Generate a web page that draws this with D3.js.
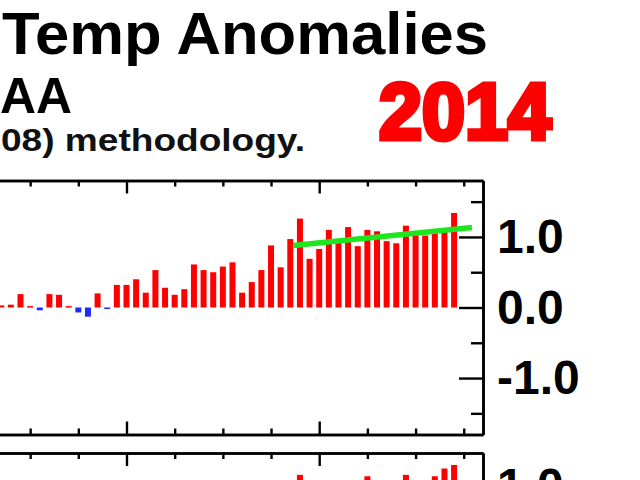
<!DOCTYPE html>
<html><head><meta charset="utf-8">
<script src="https://cdn.jsdelivr.net/npm/d3@7"></script>
<style>html,body{margin:0;padding:0;background:#fff;overflow:hidden}</style>
</head><body>
<script>
// ---- data ----
const years = [1967,1968,1969,1970,1971,1972,1973,1974,1975,1976,1977,1978,1979,1980,
  1981,1982,1983,1984,1985,1986,1987,1988,1989,1990,1991,1992,1993,1994,1995,1996,1997,
  1998,1999,2000,2001,2002,2003,2004,2005,2006,2007,2008,2009,2010,2011,2012,2013,2014];
const anomalies = [0.03,0.04,0.19,0.02,-0.04,0.19,0.18,0.02,-0.07,-0.13,0.20,-0.01,0.32,0.32,
  0.40,0.21,0.53,0.28,0.18,0.26,0.61,0.53,0.50,0.58,0.64,0.21,0.36,0.53,0.88,0.57,0.97,
  1.26,0.69,0.83,1.10,0.93,1.14,0.87,1.10,1.08,0.94,0.91,1.16,1.03,1.02,1.05,1.08,1.34];
const trendYears = [1997.3, 2015.85];
const trendValues = [0.88, 1.135];
const lowerYears = [1998, 2005, 2009, 2012, 2013, 2014];
const lowerValues = [1.16, 1.14, 1.16, 1.14, 1.25, 1.30];
const minorYearTicks = [1965,1970,1975,1985,1990,1995,2005,2010,2015];
const majorYearTicks = [1980,2000];
const majorValueTicks = [-1.0, 0.0, 1.0];
const minorValueTicks = [-1.5, -0.5, 0.5, 1.5];
const titleLine1 = "Temp Anomalies";
const titleLine2 = "AA";
const titleLine3 = "08) methodology.";
const stamp = "2014";

// ---- drawing ----
const W = 640, H = 480;
const svg = d3.select("body").append("svg").attr("width", W).attr("height", H);
svg.append("rect").attr("width", W).attr("height", H).attr("fill", "#fff");

const x = d3.scaleLinear().domain([1980, 2017]).range([126.5, 483]);
const xAxisScale = x.copy().domain([1950, 2017]).range([x(1950), x(2017)]);
const y = d3.scaleLinear().domain([-1.8, 1.8]).range([434.5, 180.5]);
const yLow = d3.scaleLinear().domain([0, 1.47]).range([556.6, 453]);

function styleAxis(g) {
  g.selectAll("path.domain").attr("stroke", "#000").attr("stroke-width", 2.6);
  g.selectAll(".tick line").attr("stroke", "#000").attr("stroke-width", 2.4);
}

function xAxis(gen, yPos) {
  const g = svg.append("g").attr("transform", `translate(0,${yPos})`);
  g.append("g").call(gen(xAxisScale).tickValues(minorYearTicks).tickSize(6).tickSizeOuter(0).tickFormat(""));
  g.append("g").call(gen(xAxisScale).tickValues(majorYearTicks).tickSize(13).tickSizeOuter(0).tickFormat(""));
  styleAxis(g);
}

// bars
const data = years.map((yr, i) => ({yr, v: anomalies[i]}));
svg.append("g").selectAll("rect").data(data).join("rect")
  .attr("x", d => x(d.yr) - 3)
  .attr("width", 6)
  .attr("y", d => y(Math.max(0, d.v)))
  .attr("height", d => Math.max(1.5, Math.abs(y(d.v) - y(0))))
  .attr("fill", d => d.v >= 0 ? "#ff0000" : "#1a2cff");

// lower panel bars
const lower = lowerYears.map((yr, i) => ({yr, v: lowerValues[i]}));
svg.append("g").selectAll("rect").data(lower).join("rect")
  .attr("x", d => x(d.yr) - 3)
  .attr("width", 6)
  .attr("y", d => yLow(d.v))
  .attr("height", d => yLow(0) - yLow(d.v))
  .attr("fill", "#ff0000");

// trend line
const trend = trendYears.map((t, i) => [t, trendValues[i]]);
svg.append("path").datum(trend)
  .attr("d", d3.line().x(d => x(d[0])).y(d => y(d[1])))
  .attr("stroke", "#1ee61e").attr("stroke-width", 5.5).attr("fill", "none");

// upper panel axes
xAxis(d3.axisBottom, y(1.8));
xAxis(d3.axisTop, y(-1.8));
// lower panel top axis
xAxis(d3.axisBottom, yLow(1.47));

function yAxis(scale, majors, minors) {
  const g = svg.append("g").attr("transform", `translate(${x(2017)},0)`);
  g.append("g").call(d3.axisRight(scale).tickValues(minors).tickSizeInner(-12).tickSizeOuter(0).tickFormat(""));
  const gm = g.append("g").call(d3.axisRight(scale).tickValues(majors).tickSizeInner(-24).tickSizeOuter(0)
    .tickPadding(14).tickFormat(d => d.toFixed(1)));
  gm.selectAll("text")
    .attr("font-family", "'Liberation Sans', Arial, Helvetica, sans-serif")
    .attr("font-weight", "bold").attr("font-size", 48).attr("fill", "#000")
    .attr("dy", "0.33em");
  styleAxis(g);
}
yAxis(y, majorValueTicks, minorValueTicks);
yAxis(yLow, [1.0], [0.5]);

// titles
const font = "'Liberation Sans', Arial, Helvetica, sans-serif";
svg.append("text").text(titleLine1).attr("x", 2).attr("y", 54)
  .attr("font-family", font).attr("font-weight", "bold").attr("font-size", 59)
  .attr("textLength", 486).attr("lengthAdjust", "spacingAndGlyphs").attr("fill", "#000");
svg.append("text").text(titleLine2).attr("x", 0).attr("y", 113)
  .attr("font-family", font).attr("font-weight", "bold").attr("font-size", 50)
  .attr("textLength", 72).attr("lengthAdjust", "spacingAndGlyphs").attr("fill", "#000");
svg.append("text").text(titleLine3).attr("x", 1).attr("y", 151)
  .attr("font-family", font).attr("font-weight", "bold").attr("font-size", 32)
  .attr("textLength", 304).attr("lengthAdjust", "spacingAndGlyphs").attr("fill", "#111");

// red year stamp
svg.append("text").text(stamp).attr("x", 379).attr("y", 139)
  .attr("font-family", font).attr("font-weight", "bold").attr("font-size", 79)
  .attr("textLength", 172).attr("lengthAdjust", "spacingAndGlyphs")
  .attr("fill", "#ff0000").attr("stroke", "#ff0000").attr("stroke-width", 5)
  .attr("stroke-linejoin", "miter");
</script>
</body></html>
